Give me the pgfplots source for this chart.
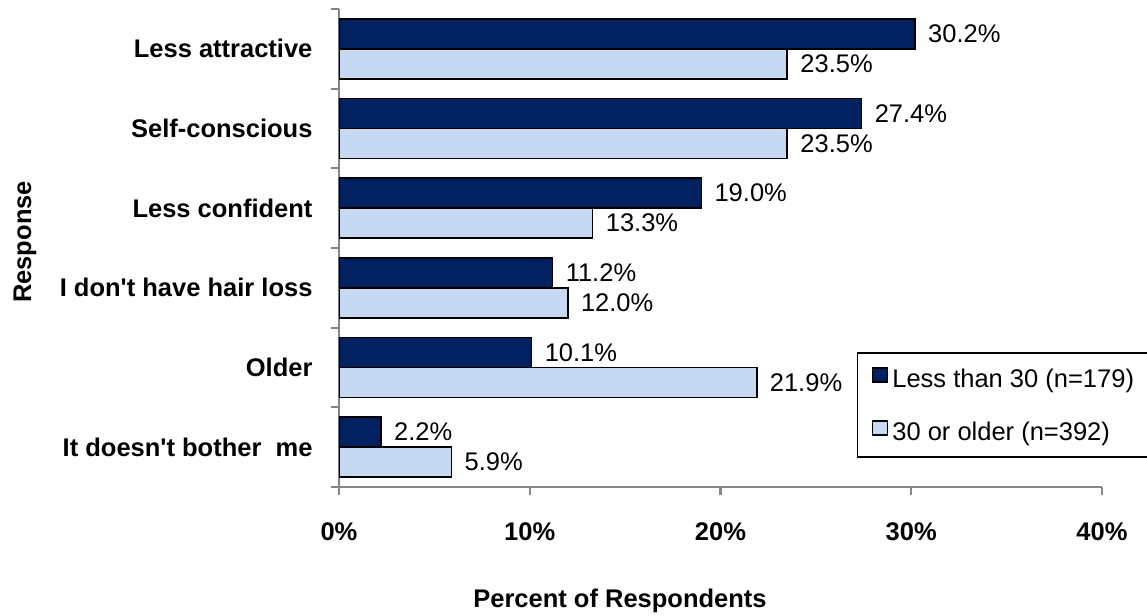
\documentclass[border=0pt]{standalone}
\usepackage{pgfplots}
\pgfplotsset{compat=1.18}
\usepackage{fontspec}
\setmainfont{Liberation Sans}
\definecolor{darkbar}{RGB}{0,32,96}
\definecolor{lightbar}{RGB}{198,217,241}
\definecolor{axgray}{RGB}{134,134,134}
\newcommand{\fs}{\fontsize{25.5}{30}\selectfont}
\begin{document}
\begin{tikzpicture}
\path[use as bounding box] (-339pt,-128pt) rectangle (808pt,487pt);
\begin{axis}[
  at={(0pt,0pt)}, anchor=south west,
  scale only axis, width=763pt, height=478pt,
  xmin=0, xmax=40, ymin=-0.5, ymax=5.5,
  axis x line*=bottom, axis y line*=left,
  axis line style={-, draw=axgray, line width=2.2pt},
  /pgf/number format/assume math mode=true,
  tick align=outside,
  major tick length=8pt, minor tick length=8pt,
  xtick={0,10,20,30,40},
  xticklabel={\pgfmathprintnumber{\tick}\%},
  major x tick style={draw=axgray, line width=2.2pt},
  ytick={0,1,2,3,4,5},
  yticklabels={It doesn\textquotesingle t bother\ \ me, Older, I don\textquotesingle t have hair loss, Less confident, Self-conscious, Less attractive},
  major y tick style={draw=none},
  minor ytick={-0.5,0.5,1.5,2.5,3.5,4.5,5.5},
  minor y tick style={draw=axgray, line width=2.2pt},
  tick label style={font=\fs\bfseries, text=black},
  yticklabel style={xshift=-15pt},
  xticklabel style={yshift=-24pt},
  xlabel={Percent of Respondents},
  ylabel={Response},
  every axis x label/.style={at={(axis description cs:0.3683,-0.2390)}, anchor=center, font=\fs\bfseries},
  every axis y label/.style={at={(axis description cs:-0.4115,0.5126)}, rotate=90, anchor=center, font=\fs\bfseries},
  point meta=x,
  nodes near coords={\pgfmathprintnumber[fixed,fixed zerofill,precision=1]{\pgfplotspointmeta}\%},
  nodes near coords style={anchor=west, font=\fs, text=black, xshift=9pt},
  legend image code/.code={\draw[#1] (0pt,-4pt) rectangle (15pt,10pt);},
  legend style={at={(axis description cs:0.6789,0.2824)}, anchor=north west,
    draw=black, line width=1.5pt, inner xsep=14pt, inner ysep=10pt,
    font=\fs, row sep=22pt, column sep=4pt,
    nodes={inner sep=0pt, text height=25pt, text depth=6pt}},
  legend cell align=left,
]
\addplot[xbar, bar width=0.375, bar shift=0.1875, fill=darkbar, draw=black, line width=1.6pt,
  nodes near coords style={yshift=15pt}]
  coordinates {(30.2,5) (27.4,4) (19.0,3) (11.2,2) (10.1,1) (2.2,0)};
\addlegendentry{Less than 30 (n=179)\hspace*{6pt}}
\addplot[xbar, bar width=0.375, bar shift=-0.1875, fill=lightbar, draw=black, line width=1.6pt,
  nodes near coords style={yshift=-15pt}]
  coordinates {(23.5,5) (23.5,4) (13.3,3) (12.0,2) (21.9,1) (5.9,0)};
\addlegendentry{30 or older (n=392)}
\end{axis}
\end{tikzpicture}
\end{document}
